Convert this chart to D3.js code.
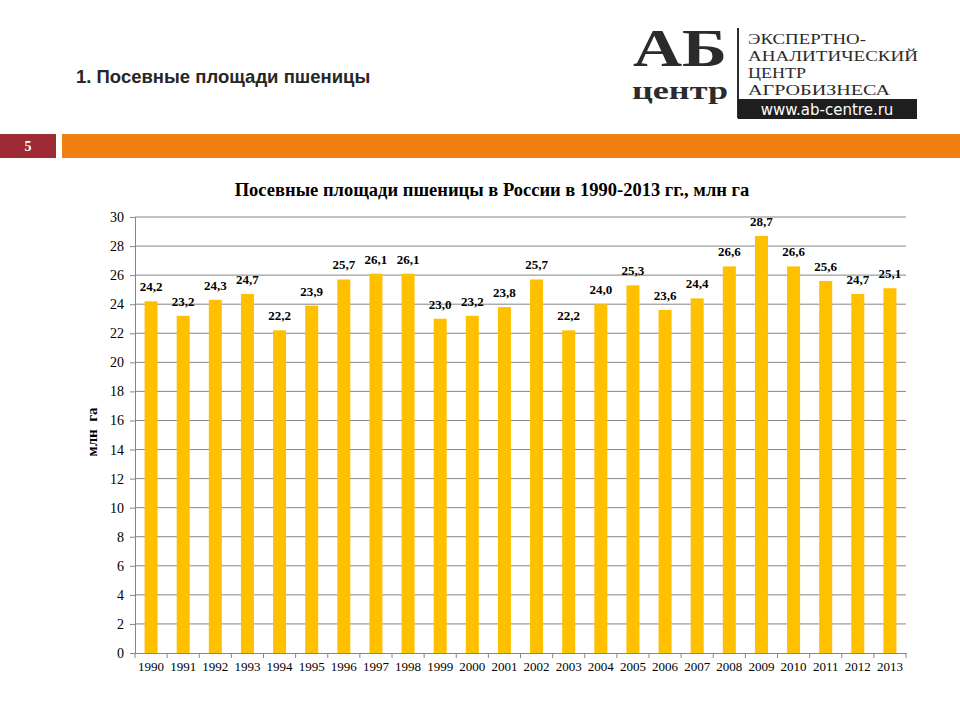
<!DOCTYPE html>
<html><head><meta charset="utf-8">
<script src="https://cdn.jsdelivr.net/npm/d3@7"></script>
<style>body{margin:0;background:#fff}</style>
</head><body><svg id="c" width="960" height="720"></svg>
<script>
const years = ["1990","1991","1992","1993","1994","1995","1996","1997","1998","1999","2000","2001","2002","2003","2004","2005","2006","2007","2008","2009","2010","2011","2012","2013"];
const area = [24.2,23.2,24.3,24.7,22.2,23.9,25.7,26.1,26.1,23.0,23.2,23.8,25.7,22.2,24.0,25.3,23.6,24.4,26.6,28.7,26.6,25.6,24.7,25.1];
const yTicks = [0,2,4,6,8,10,12,14,16,18,20,22,24,26,28,30];

const svg = d3.select("#c");
const serif = "'Liberation Serif','Times New Roman',serif";
const sans = "'Liberation Sans',Arial,sans-serif";

// header
svg.append("text").attr("x",76).attr("y",83).attr("font-family",sans).attr("font-weight","bold")
  .attr("font-size",18.5).attr("fill","#262626").text("1. Посевные площади пшеницы");
svg.append("rect").attr("x",0).attr("y",134).attr("width",56).attr("height",24).attr("fill","#9e2a35");
svg.append("text").attr("x",28).attr("y",151).attr("text-anchor","middle").attr("font-family",serif)
  .attr("font-weight","bold").attr("font-size",14).attr("fill","#fff").text("5");
svg.append("rect").attr("x",62).attr("y",134).attr("width",898).attr("height",24).attr("fill","#ee7f10");

// logo
const lg = svg.append("g");
lg.append("text").attr("x",680).attr("y",66).attr("text-anchor","middle").attr("font-family",serif)
  .attr("font-weight","bold").attr("font-size",52).attr("fill","#2b2b2b")
  .attr("textLength",94).attr("lengthAdjust","spacingAndGlyphs").text("АБ");
lg.append("text").attr("x",680).attr("y",99).attr("text-anchor","middle").attr("font-family",serif)
  .attr("font-weight","bold").attr("font-size",25).attr("fill","#2b2b2b")
  .attr("textLength",96).attr("lengthAdjust","spacingAndGlyphs").text("центр");
lg.append("line").attr("x1",738).attr("x2",738).attr("y1",28).attr("y2",118).attr("stroke","#2b2b2b").attr("stroke-width",2);
[["ЭКСПЕРТНО-",44,118],["АНАЛИТИЧЕСКИЙ",61,170],["ЦЕНТР",78,58],["АГРОБИЗНЕСА",95,142]].forEach(([t,y,w])=>{
  lg.append("text").attr("x",748).attr("y",y).attr("font-family",serif).attr("font-size",15)
    .attr("textLength",w).attr("lengthAdjust","spacingAndGlyphs").attr("fill","#2b2b2b").text(t);
});
lg.append("rect").attr("x",738).attr("y",99).attr("width",179).attr("height",20).attr("fill","#1e1e1e");
lg.append("text").attr("x",827).attr("y",115).attr("text-anchor","middle").attr("font-family","'DejaVu Sans',sans-serif")
  .attr("font-size",15).attr("fill","#fff").text("www.ab-centre.ru");

// chart
const L=135,R=906,T=217,B=653;
svg.append("text").attr("x",492).attr("y",196).attr("text-anchor","middle").attr("font-family",serif)
  .attr("font-weight","bold").attr("font-size",18.5).attr("fill","#000").text("Посевные площади пшеницы в России в 1990-2013 гг., млн га");

const xb = d3.scaleBand().domain(years).range([L,R]);
const y = d3.scaleLinear().domain([0,30]).range([B,T]);

svg.append("g").selectAll("line").data(yTicks.filter(d=>d>0)).join("line")
  .attr("x1",L).attr("x2",R).attr("y1",d=>y(d)).attr("y2",d=>y(d)).attr("stroke","#868686").attr("stroke-width",1);

svg.append("g").selectAll("rect").data(area).join("rect")
  .attr("x",(d,i)=>xb(years[i])+xb.bandwidth()/2-6.5).attr("width",13)
  .attr("y",d=>y(d)).attr("height",d=>B-y(d)).attr("fill","#ffc000");

svg.append("g").selectAll("text").data(area).join("text")
  .attr("x",(d,i)=>xb(years[i])+xb.bandwidth()/2).attr("y",d=>y(d)-10)
  .attr("text-anchor","middle").attr("font-family",serif).attr("font-weight","bold").attr("font-size",13)
  .text(d=>d.toFixed(1).replace(".",","));

const ya = svg.append("g").attr("transform",`translate(${L},0)`)
  .call(d3.axisLeft(y).tickValues(yTicks).tickSize(5).tickPadding(6));
ya.select(".domain").attr("stroke","#868686");
ya.selectAll(".tick line").attr("stroke","#868686");
ya.selectAll("text").attr("font-family",serif).attr("font-size",14).attr("fill","#000");

const xa = svg.append("g").attr("transform",`translate(0,${B})`)
  .call(d3.axisBottom(xb).tickSize(0).tickPadding(9));
xa.select(".domain").attr("stroke","#868686");
xa.selectAll("text").attr("font-family",serif).attr("font-size",13).attr("fill","#000");
svg.append("g").selectAll("line").data(years.concat(["end"])).join("line")
  .attr("x1",(d,i)=>L+i*xb.step()).attr("x2",(d,i)=>L+i*xb.step()).attr("y1",B).attr("y2",B+5).attr("stroke","#868686");

svg.append("text").attr("transform","translate(97,432) rotate(-90)").attr("text-anchor","middle")
  .attr("font-family",serif).attr("font-weight","bold").attr("font-size",15).attr("xml:space","preserve").text("млн  га");
</script></body></html>
